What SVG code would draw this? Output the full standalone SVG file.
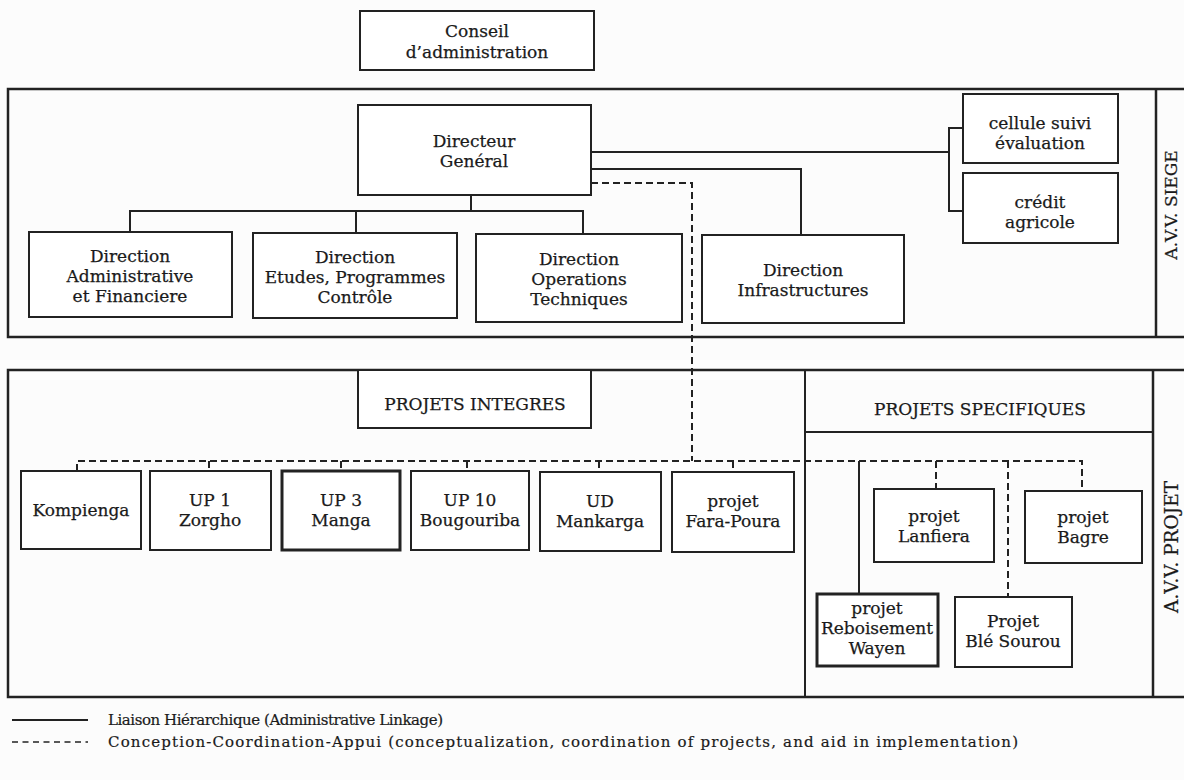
<svg xmlns="http://www.w3.org/2000/svg" width="1184" height="780" viewBox="0 0 1184 780">
<style>
.bg{fill:#fcfcfc}
.frame{fill:none;stroke:#222;stroke-width:2.5}
.box{fill:#fff;stroke:#222;stroke-width:2}
.thick{stroke-width:3}
.t{font-family:"DejaVu Serif","Liberation Serif",serif;font-size:17px;fill:#1a1a1a;stroke:#1a1a1a;stroke-width:0.25;text-anchor:middle}
.lg{font-family:"DejaVu Serif","Liberation Serif",serif;font-size:15px;fill:#1a1a1a;stroke:#1a1a1a;stroke-width:0.2}
.ln{fill:none;stroke:#222;stroke-width:2}
.dash{fill:none;stroke:#222;stroke-width:2;stroke-dasharray:7 4}
</style>
<rect class="bg" x="0" y="0" width="1184" height="780"/>

<g id="frames">
  <path class="frame" d="M1184,89 H8 V337 H1184"/>
  <line class="frame" x1="1156" y1="89" x2="1156" y2="337"/>
  <text class="t" transform="translate(1177,205) rotate(-90)">A.V.V. SIEGE</text>
  <path class="frame" d="M1184,370 H8 V697 H1184"/>
  <line class="frame" x1="1153" y1="370" x2="1153" y2="697"/>
  <text class="t" style="font-size:18.5px" transform="translate(1178,547) rotate(-90)">A.V.V. PROJET</text>
  <line class="ln" x1="805" y1="370" x2="805" y2="697"/>
  <line class="ln" x1="805" y1="432" x2="1153" y2="432"/>
</g>

<g id="connectors">
  <polyline class="ln" points="471,195 471,211"/>
  <polyline class="ln" points="130,232 130,211 583,211 583,234"/>
  <line class="ln" x1="356" y1="211" x2="356" y2="233"/>
  <polyline class="ln" points="591,152 949,152"/>
  <polyline class="ln" points="963,128 949,128 949,211 963,211"/>
  <polyline class="ln" points="591,169 801,169 801,235"/>
  <line class="ln" x1="859" y1="461" x2="859" y2="594"/>
  <polyline class="dash" points="591,183 692,183 692,461"/>
  <polyline class="dash" points="77,471 77,461 1082,461 1082,491"/>
  <line class="dash" x1="209" y1="461" x2="209" y2="471"/>
  <line class="dash" x1="341" y1="461" x2="341" y2="471"/>
  <line class="dash" x1="467" y1="461" x2="467" y2="471"/>
  <line class="dash" x1="599" y1="461" x2="599" y2="472"/>
  <line class="dash" x1="733" y1="461" x2="733" y2="472"/>
  <line class="dash" x1="936" y1="461" x2="936" y2="489"/>
  <line class="dash" x1="1008" y1="461" x2="1008" y2="597"/>
</g>

<g id="conseil">
  <rect class="box" x="360" y="11" width="234" height="59"/>
  <text class="t" x="477" y="37">Conseil</text>
  <text class="t" x="477" y="58">d’administration</text>
</g>
<g id="directeur">
  <rect class="box" x="358" y="105" width="233" height="90"/>
  <text class="t" x="474" y="147">Directeur</text>
  <text class="t" x="474" y="167">Genéral</text>
</g>
<g id="cellule">
  <rect class="box" x="963" y="94" width="155" height="69"/>
  <text class="t" x="1040" y="129">cellule suivi</text>
  <text class="t" x="1040" y="149">évaluation</text>
</g>
<g id="credit">
  <rect class="box" x="963" y="173" width="155" height="70"/>
  <text class="t" x="1040" y="208">crédit</text>
  <text class="t" x="1040" y="228">agricole</text>
</g>
<g id="dir-admin">
  <rect class="box" x="29" y="232" width="203" height="85"/>
  <text class="t" x="130" y="262">Direction</text>
  <text class="t" x="130" y="282">Administrative</text>
  <text class="t" x="130" y="302">et Financiere</text>
</g>
<g id="dir-etudes">
  <rect class="box" x="253" y="233" width="204" height="85"/>
  <text class="t" x="355" y="263">Direction</text>
  <text class="t" x="355" y="283">Etudes, Programmes</text>
  <text class="t" x="355" y="303">Contrôle</text>
</g>
<g id="dir-operations">
  <rect class="box" x="476" y="234" width="206" height="88"/>
  <text class="t" x="579" y="265">Direction</text>
  <text class="t" x="579" y="285">Operations</text>
  <text class="t" x="579" y="305">Techniques</text>
</g>
<g id="dir-infra">
  <rect class="box" x="702" y="235" width="202" height="88"/>
  <text class="t" x="803" y="276">Direction</text>
  <text class="t" x="803" y="296">Infrastructures</text>
</g>

<g id="projets-integres">
  <rect class="box" x="358" y="370" width="233" height="58"/>
  <text class="t" x="475" y="410">PROJETS INTEGRES</text>
</g>
<g id="projets-specifiques">
  <text class="t" x="980" y="415">PROJETS SPECIFIQUES</text>
</g>

<g id="kompienga">
  <rect class="box" x="21" y="471" width="120" height="78"/>
  <text class="t" x="81" y="516">Kompienga</text>
</g>
<g id="up1">
  <rect class="box" x="150" y="471" width="121" height="79"/>
  <text class="t" x="210" y="506">UP 1</text>
  <text class="t" x="210" y="526">Zorgho</text>
</g>
<g id="up3">
  <rect class="box thick" x="282" y="471" width="118" height="79"/>
  <text class="t" x="341" y="506">UP 3</text>
  <text class="t" x="341" y="526">Manga</text>
</g>
<g id="up10">
  <rect class="box" x="411" y="471" width="118" height="79"/>
  <text class="t" x="470" y="506">UP 10</text>
  <text class="t" x="470" y="526">Bougouriba</text>
</g>
<g id="ud">
  <rect class="box" x="540" y="472" width="121" height="79"/>
  <text class="t" x="600" y="507">UD</text>
  <text class="t" x="600" y="527">Mankarga</text>
</g>
<g id="fara-poura">
  <rect class="box" x="672" y="472" width="122" height="80"/>
  <text class="t" x="733" y="507">projet</text>
  <text class="t" x="733" y="527">Fara-Poura</text>
</g>

<g id="lanfiera">
  <rect class="box" x="874" y="489" width="120" height="73"/>
  <text class="t" x="934" y="522">projet</text>
  <text class="t" x="934" y="542">Lanfiera</text>
</g>
<g id="bagre">
  <rect class="box" x="1025" y="491" width="117" height="72"/>
  <text class="t" x="1083" y="523">projet</text>
  <text class="t" x="1083" y="543">Bagre</text>
</g>
<g id="wayen">
  <rect class="box thick" x="817" y="594" width="121" height="72"/>
  <text class="t" x="877" y="614">projet</text>
  <text class="t" x="877" y="634">Reboisement</text>
  <text class="t" x="877" y="654">Wayen</text>
</g>
<g id="ble-sourou">
  <rect class="box" x="955" y="597" width="117" height="70"/>
  <text class="t" x="1013" y="627">Projet</text>
  <text class="t" x="1013" y="647">Blé Sourou</text>
</g>

<g id="legend">
  <line class="ln" x1="12" y1="720" x2="88" y2="720"/>
  <text class="lg" x="108" y="725" textLength="335" lengthAdjust="spacing">Liaison Hiérarchique (Administrative Linkage)</text>
  <line class="dash" x1="12" y1="742" x2="88" y2="742" style="stroke-dasharray:6 4.5;stroke-width:1.5"/>
  <text class="lg" x="108" y="747" textLength="910" lengthAdjust="spacing">Conception-Coordination-Appui (conceptualization, coordination of projects, and aid in implementation)</text>
</g>
</svg>
